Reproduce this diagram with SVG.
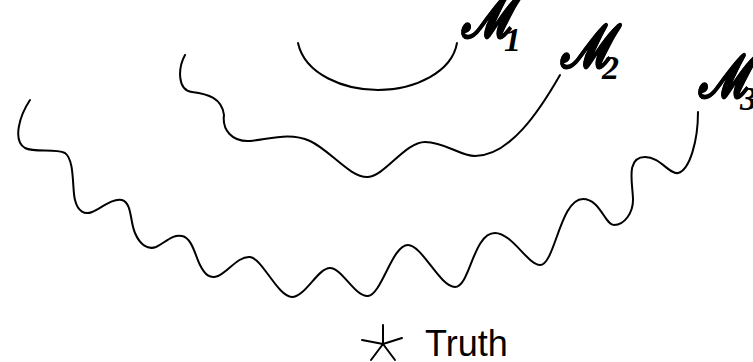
<svg xmlns="http://www.w3.org/2000/svg" width="753" height="362" viewBox="0 0 753 362">
<style>
.c{fill:none;stroke:#000;stroke-width:2;stroke-linecap:round;stroke-linejoin:round}
.m{font-family:"DejaVu Serif","Liberation Serif",serif;font-style:italic;font-weight:bold;font-size:38px;fill:#000;stroke:#000;stroke-width:0.4}
.s{font-family:"Liberation Serif",serif;font-style:italic;font-weight:bold;font-size:34px;fill:#000}
.t{font-family:"Liberation Sans",Arial,sans-serif;fill:#000}
</style>
<rect width="753" height="362" fill="#fff"/>
<g id="curves">
<path class="c" d="M298,43 C305,75 345,90 378,90 C415,90 452,72 457,43"/>
<path class="c" d="M185,55 C178,68 177,90 192,92 C208,94 222,98 224,115 C222,130 232,142 250,141 C270,139 290,132 310,141 C330,150 350,178 368,177 C385,176 405,142 425,142 C445,142 460,156 475,156 C510,156 540,110 560,75"/>
<path class="c" d="M30,100 C20,115 12,140 25,148 C35,153 55,148 65,153 C75,160 72,190 75,200 C78,212 85,215 92,212 C100,209 112,198 122,200 C132,203 130,222 135,233 C140,245 148,250 156,247 C165,243 172,234 182,236 C192,238 195,255 200,265 C205,275 210,279 218,276 C228,272 238,256 250,257 C262,258 278,297 292,297 C305,297 318,268 330,268 C342,268 355,297 368,296 C382,294 392,245 408,245 C422,245 440,287 455,287 C470,287 473,233 495,233 C512,233 528,265 540,265 C555,265 560,199 583,199 C600,199 605,225 614,225 C625,225 633,212 633,200 C633,185 625,157 645,157 C660,157 670,175 678,173 C690,170 698,140 698,112"/>
</g>
<g id="label-m1"><text class="m" transform="translate(461,37) scale(1.15,1.6)">𝓜</text><text class="s" x="504" y="51">1</text></g>
<g id="label-m2"><text class="m" transform="translate(560,67) scale(1.15,1.6)">𝓜</text><text class="s" x="602" y="79">2</text></g>
<g id="label-m3"><text class="m" transform="translate(698,97) scale(1.15,1.6)">𝓜</text><text class="s" x="740" y="110">3</text></g>
<g id="truth">
<path class="c" d="M383,325 L383,344 M362,340 L383,344 L402,338 M383,344 L371,360 M383,344 L395,360"/>
<text class="t" x="425" y="356" font-size="36">Truth</text>
</g>
</svg>
